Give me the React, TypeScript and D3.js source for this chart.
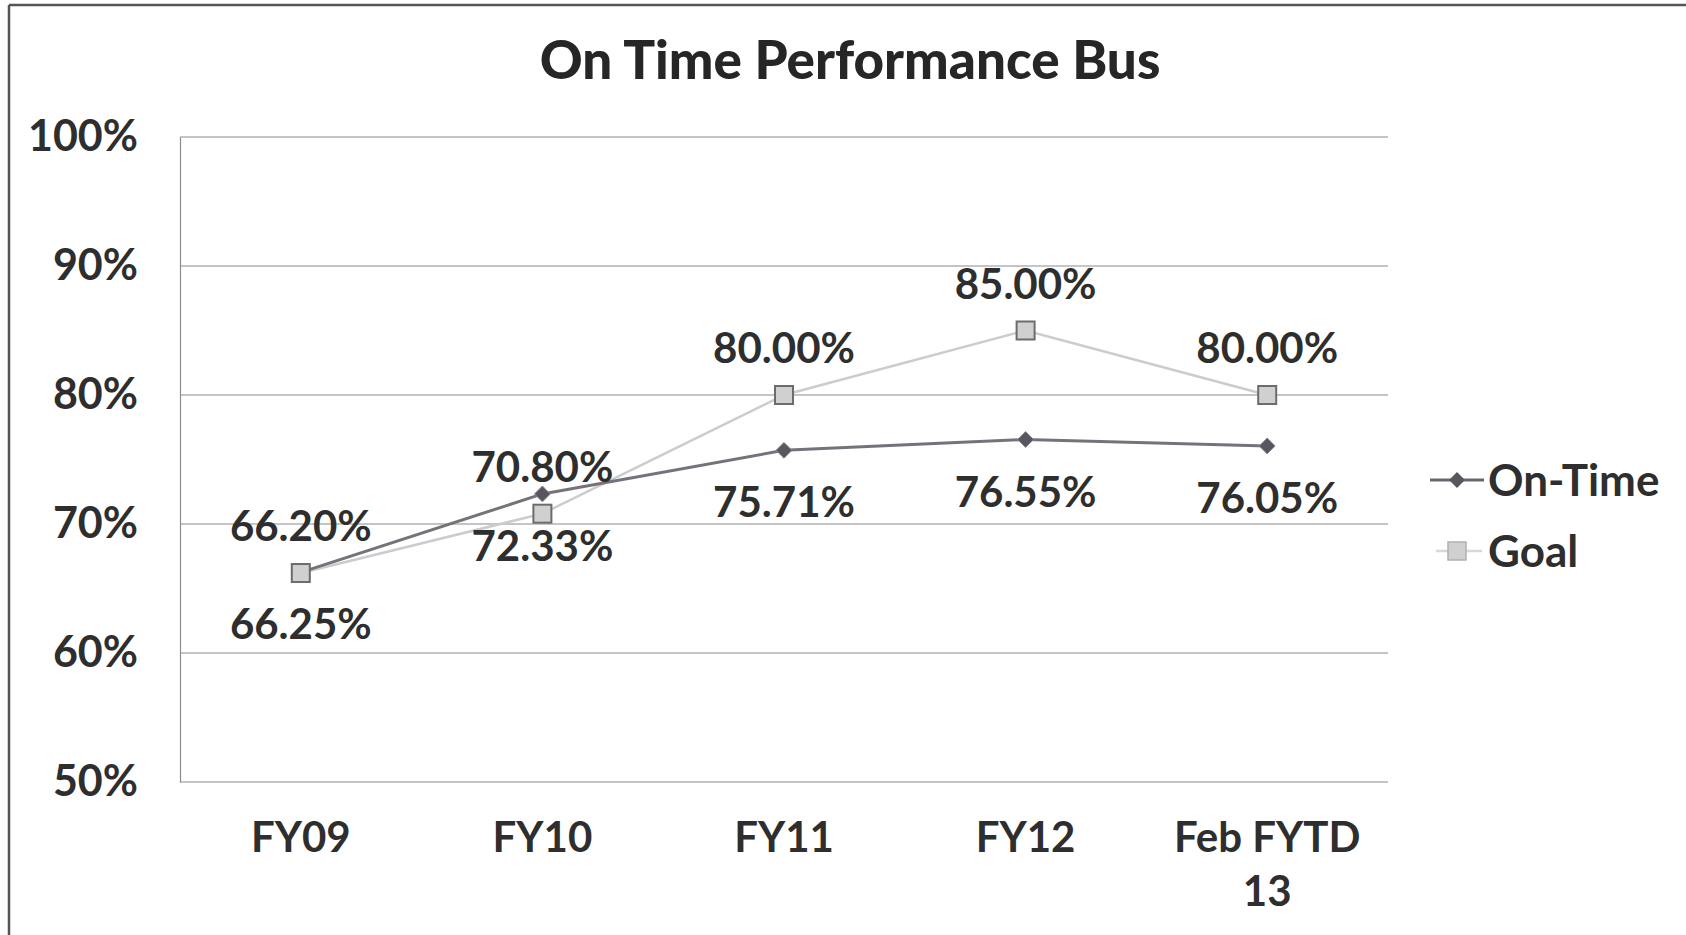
import { useEffect, useRef } from "react";
import * as d3 from "d3";

const CATEGORIES = ["FY09", "FY10", "FY11", "FY12", "Feb FYTD 13"];
const ON_TIME = [66.25, 72.33, 75.71, 76.55, 76.05];
const GOAL = [66.2, 70.8, 80.0, 85.0, 80.0];
const Y_TICKS = [50, 60, 70, 80, 90, 100];

const FONT = "Lato, 'Open Sans', sans-serif";
const TEXT = "#2e2e2e";

export default function App() {
  const svgRef = useRef<SVGSVGElement>(null);

  useEffect(() => {
    if (!svgRef.current) return;
    const svg = d3.select(svgRef.current);
    svg.selectAll("*").remove();

    const width = 1686;
    const height = 935;
    const margin = { top: 137, right: 298, bottom: 153, left: 180 };

    svg.attr("width", width).attr("height", height);

    // frame
    svg.append("line").attr("x1", 9).attr("x2", width).attr("y1", 5).attr("y2", 5)
      .attr("stroke", "#555").attr("stroke-width", 2.5);
    svg.append("line").attr("x1", 9).attr("x2", 9).attr("y1", 5).attr("y2", height)
      .attr("stroke", "#555").attr("stroke-width", 2.5);

    const x = d3.scaleBand()
      .domain(CATEGORIES)
      .range([margin.left, width - margin.right]);
    const cx = (c: string) => x(c)! + x.bandwidth() / 2;

    const y = d3.scaleLinear()
      .domain([50, 100])
      .range([height - margin.bottom, margin.top]);

    // title
    svg.append("text")
      .attr("x", 850)
      .attr("y", 79)
      .attr("text-anchor", "middle")
      .attr("font-family", FONT)
      .attr("font-weight", 900)
      .attr("font-size", 53)
      .attr("fill", "#262626")
      .text("On Time Performance Bus");

    // Y axis
    svg.append("g")
      .attr("transform", `translate(${margin.left},0)`)
      .call(d3.axisLeft(y).tickValues(Y_TICKS).tickFormat((d) => `${d}%`).tickSize(0).tickPadding(42))
      .call((g) => {
        g.select(".domain").attr("stroke", "#8c8c8c").attr("stroke-width", 1.2);
        g.selectAll(".tick text")
          .attr("fill", TEXT)
          .attr("font-family", FONT)
          .attr("font-weight", 700)
          .attr("font-size", 43);
      });

    // grid
    svg.append("g")
      .selectAll("line")
      .data(Y_TICKS)
      .join("line")
      .attr("x1", margin.left)
      .attr("x2", width - margin.right)
      .attr("y1", (d) => y(d))
      .attr("y2", (d) => y(d))
      .attr("stroke", "#8c8c8c")
      .attr("stroke-width", 1.2);

    // X axis labels
    const xl = svg.append("g")
      .selectAll("text")
      .data(CATEGORIES)
      .join("text")
      .attr("x", (d) => cx(d))
      .attr("y", 852)
      .attr("text-anchor", "middle")
      .attr("fill", TEXT)
      .attr("font-family", FONT)
      .attr("font-weight", 700)
      .attr("font-size", 42);
    xl.each(function (d) {
      const t = d3.select(this);
      const parts = d === "Feb FYTD 13" ? ["Feb FYTD", "13"] : [d];
      parts.forEach((p, i) => {
        t.append("tspan").attr("x", cx(d)).attr("dy", i === 0 ? 0 : 54).text(p);
      });
    });

    const onPts = CATEGORIES.map((c, i) => ({ c, v: ON_TIME[i] }));
    const goalPts = CATEGORIES.map((c, i) => ({ c, v: GOAL[i] }));

    const line = d3.line<{ c: string; v: number }>()
      .x((d) => cx(d.c))
      .y((d) => y(d.v));

    // Goal series
    svg.append("path")
      .datum(goalPts)
      .attr("fill", "none")
      .attr("stroke", "#cccccc")
      .attr("stroke-width", 2.5)
      .attr("d", line);

    // On-time series
    svg.append("path")
      .datum(onPts)
      .attr("fill", "none")
      .attr("stroke", "#76727c")
      .attr("stroke-width", 3)
      .attr("d", line);

    const diamond = d3.symbol().type(d3.symbolDiamond2).size(160);
    svg.append("g")
      .selectAll("path")
      .data(onPts)
      .join("path")
      .attr("transform", (d) => `translate(${cx(d.c)},${y(d.v)})`)
      .attr("d", diamond)
      .attr("fill", "#5a5660")
      .attr("stroke", "#8a8690")
      .attr("stroke-width", 1);

    svg.append("g")
      .selectAll("rect")
      .data(goalPts)
      .join("rect")
      .attr("x", (d) => cx(d.c) - 9)
      .attr("y", (d) => y(d.v) - 9)
      .attr("width", 18)
      .attr("height", 18)
      .attr("fill", "#d0d0d0")
      .attr("stroke", "#6c6c6c")
      .attr("stroke-width", 2);

    // data labels
    const labelStyle = (sel: d3.Selection<SVGTextElement, { c: string; v: number }, SVGGElement, unknown>) =>
      sel.attr("text-anchor", "middle")
        .attr("fill", TEXT)
        .attr("font-family", FONT)
        .attr("font-weight", 700)
        .attr("font-size", 42)
        .text((d) => `${d.v.toFixed(2)}%`);

    svg.append("g")
      .selectAll("text")
      .data(goalPts)
      .join("text")
      .attr("x", (d) => cx(d.c))
      .attr("y", (d) => y(d.v) - 32)
      .call(labelStyle);

    svg.append("g")
      .selectAll("text")
      .data(onPts)
      .join("text")
      .attr("x", (d) => cx(d.c))
      .attr("y", (d) => y(d.v) + 67)
      .call(labelStyle);

    // legend
    const lg = svg.append("g");
    lg.append("line").attr("x1", 1430).attr("x2", 1484).attr("y1", 480).attr("y2", 480)
      .attr("stroke", "#6a6670").attr("stroke-width", 3);
    lg.append("path").attr("transform", "translate(1457,480)").attr("d", diamond)
      .attr("fill", "#5a5660");
    lg.append("text").attr("x", 1488).attr("y", 496)
      .attr("fill", TEXT).attr("font-family", FONT).attr("font-weight", 700).attr("font-size", 44)
      .text("On-Time");

    lg.append("line").attr("x1", 1436).attr("x2", 1482).attr("y1", 551).attr("y2", 551)
      .attr("stroke", "#d8d8d8").attr("stroke-width", 2.5);
    lg.append("rect").attr("x", 1448).attr("y", 542).attr("width", 18).attr("height", 18)
      .attr("fill", "#d0d0d0").attr("stroke", "#b0b0b0").attr("stroke-width", 1.5);
    lg.append("text").attr("x", 1488).attr("y", 567)
      .attr("fill", TEXT).attr("font-family", FONT).attr("font-weight", 700).attr("font-size", 44)
      .text("Goal");
  }, []);

  return <svg ref={svgRef} style={{ position: "absolute", left: 0, top: 0, background: "#fff" }} />;
}
